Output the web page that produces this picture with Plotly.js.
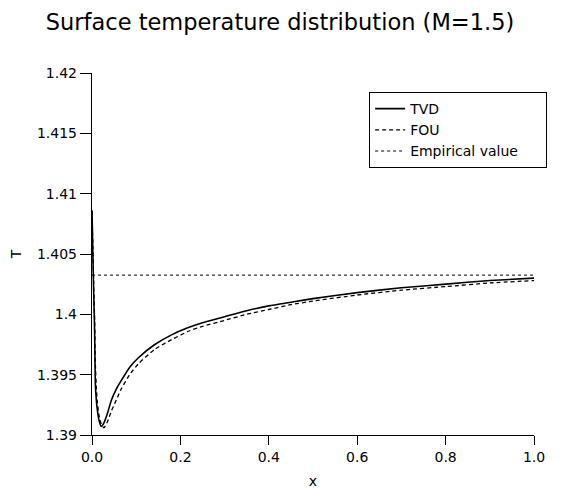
<!DOCTYPE html>
<html>
<head>
<meta charset="utf-8">
<script src="https://cdn.plot.ly/plotly-3.0.1.min.js"></script>
<style>html,body{margin:0;padding:0;background:#fff;}</style>
</head>
<body>
<div id="chart" style="width:575px;height:495px;"></div>
<script>
const xs = [0, 0.002, 0.004, 0.006, 0.0075, 0.01, 0.012, 0.016, 0.021, 0.027, 0.035, 0.044, 0.055, 0.066, 0.085, 0.105, 0.142, 0.18, 0.218, 0.25, 0.3, 0.35, 0.4, 0.45, 0.5, 0.6, 0.7, 0.8, 0.9, 1.0];
const tvd = [1.4086, 1.4050, 1.4015, 1.3985, 1.3943, 1.3928, 1.3921, 1.3912, 1.3907, 1.3910, 1.3918, 1.3929, 1.3938, 1.3945, 1.3956, 1.3964, 1.3975, 1.3983, 1.3989, 1.3993, 1.3998, 1.4003, 1.4007, 1.4010, 1.4013, 1.4018, 1.4022, 1.4025, 1.4028, 1.4030];
const fou = [1.4086, 1.4055, 1.4022, 1.3995, 1.3960, 1.3938, 1.3928, 1.3916, 1.3909, 1.3906, 1.3911, 1.3920, 1.3929, 1.3938, 1.3950, 1.3959, 1.3971, 1.3979, 1.3986, 1.3990, 1.3995, 1.4000, 1.4004, 1.4008, 1.4011, 1.4016, 1.4020, 1.4023, 1.4026, 1.4028];
const empX = [0, 1];
const empT = [1.40325, 1.40325];
const seriesNames = ['TVD', 'FOU', 'Empirical value'];
const pad = '\u00a0\u00a0\u00a0\u00a0\u00a0';

const traces = [
  {x: xs, y: tvd, name: seriesNames[0], mode: 'lines', line: {color: '#000', width: 1.6, dash: 'solid', shape: 'spline', smoothing: 0.5}},
  {x: xs, y: fou, name: seriesNames[1], mode: 'lines', line: {color: '#000', width: 1.3, dash: '4px,3px', shape: 'spline', smoothing: 0.5}},
  {x: empX, y: empT, name: seriesNames[2] + pad, mode: 'lines', line: {color: '#000', width: 1, dash: 'dot'}}
];

const font = 'DejaVu Sans, sans-serif';
const layout = {
  width: 575, height: 495,
  margin: {l: 92, r: 41, t: 73, b: 60},
  paper_bgcolor: '#fff', plot_bgcolor: '#fff',
  font: {family: font, size: 14, color: '#000'},
  title: {text: 'Surface temperature distribution (M=1.5)', font: {family: font, size: 22.5, color: '#000'}, x: 0.487, xanchor: 'center', y: 0.955, yanchor: 'middle'},
  xaxis: {range: [0, 1], dtick: 0.2, tick0: 0, tickformat: '.1f', showline: true, linecolor: '#000', linewidth: 1.2, ticks: 'outside', ticklen: 9, tickcolor: '#000', showgrid: false, zeroline: false, title: {text: 'x', font: {size: 14}, standoff: 12}},
  yaxis: {range: [1.39, 1.42], dtick: 0.005, tick0: 1.39, showline: true, linecolor: '#000', linewidth: 1.2, ticks: 'outside', ticklen: 11, tickcolor: '#000', showgrid: false, zeroline: false, title: {text: 'T', font: {size: 14}, standoff: 12}},
  showlegend: true,
  legend: {x: 0.627, y: 0.9475, xanchor: 'left', yanchor: 'top', bgcolor: '#fff', bordercolor: '#000', borderwidth: 1, font: {family: font, size: 14}, tracegroupgap: 0}
};

Plotly.newPlot('chart', traces, layout, {displayModeBar: false, staticPlot: true});
</script>
</body>
</html>
